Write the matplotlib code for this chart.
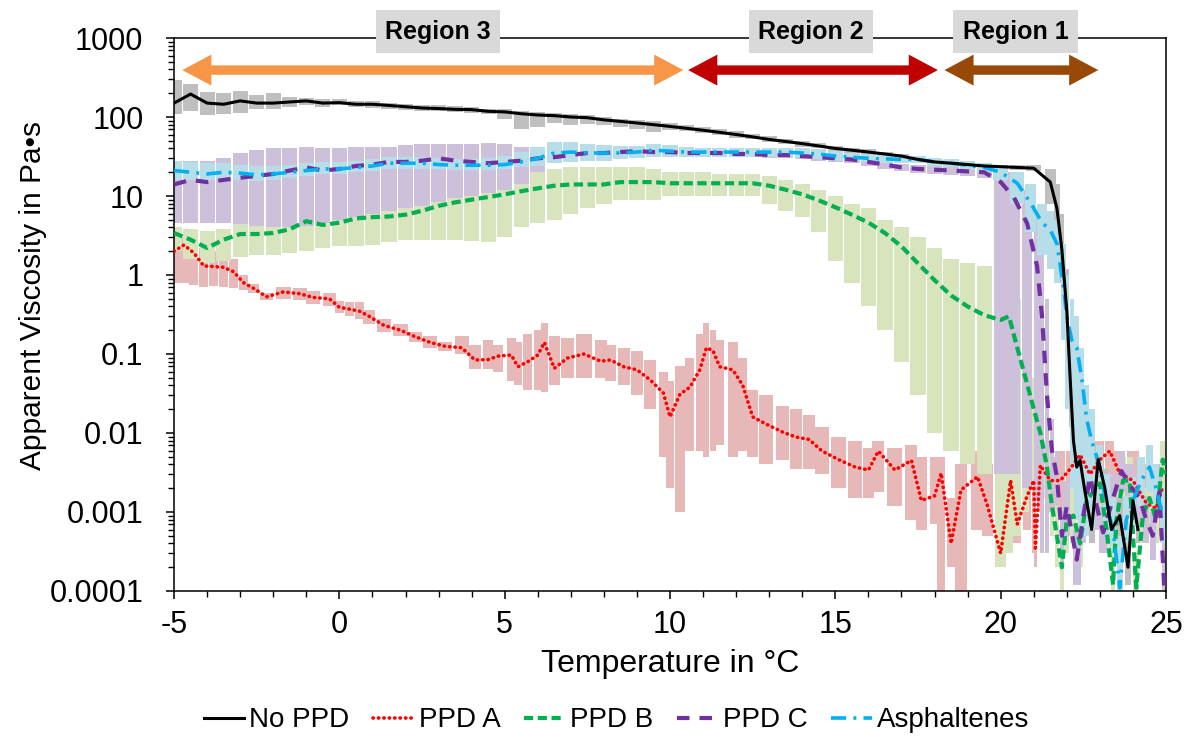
"""Apparent viscosity vs temperature for crude oil with and without PPDs."""

import matplotlib

matplotlib.use("Agg")

import matplotlib.pyplot as plt
import matplotlib.transforms as mtransforms
import numpy as np
from matplotlib.patches import Polygon
from matplotlib.ticker import FixedLocator, LogLocator, MultipleLocator, NullFormatter


# ---- No PPD (black) ----
NOPPD_T = [-5, -4.5, -4, -3.5, -3, -2.5, -2, -1.5, -1, -0.5,
           0, 0.5, 1, 1.5, 2, 2.5, 3, 3.5, 4, 4.5,
           5, 5.5, 6, 6.5, 7, 7.5, 8, 8.5, 9, 9.5,
           10, 10.5, 11, 11.5, 12, 12.5, 13, 13.5, 14, 14.5,
           15, 15.5, 16, 16.5, 17, 17.5, 18, 18.5, 19, 19.5,
           20, 20.5, 21,
           21.5, 21.7, 21.85, 22.0, 22.1, 22.2, 22.3, 22.4, 22.55, 22.75,
           22.95, 23.15, 23.35, 23.6, 23.85, 24.0, 24.15]
NOPPD_V = [150, 195, 150, 145, 160, 150, 150, 155, 160, 150,
           152, 145, 145, 140, 135, 130, 128, 125, 124, 118,
           116, 110, 106, 104, 100, 98, 92, 88, 84, 80,
           76, 72, 68, 64, 60, 56, 52, 49, 46, 43,
           40, 38, 36, 34, 32, 29, 27, 26, 25, 24,
           23.5, 23, 22.5,
           15, 7, 2.1, 0.35, 0.05, 0.008, 0.0037, 0.0045, 0.0018, 0.0006,
           0.0046, 0.002, 0.0006, 0.0009, 0.0002, 0.0014, 0.0006]
NOPPD_LO = [110, 120, 105, 110, 112, 125, 125, 135, 140, 135,
            140, 132, 130, 128, 124, 120, 118, 115, 113, 108,
            95, 70, 75, 85, 80, 82, 80, 75, 70, 65,
            68, 66, 62, 59, 55, 52, 48, 45, 42, 40,
            37, 35, 33.5, 32, 30, 27, 25, 24.5, 23.5, 22.5,
            22, 21.5, 20.5,
            8, 3, 0.8, 0.08, 0.012, 0.003, 0.002, 0.0025, 0.001, 0.0004,
            0.0025, 0.0012, 0.0004, 0.0005, 0.00012, 0.0008, 0.0004]
NOPPD_HI = [290, 260, 210, 200, 215, 190, 200, 180, 175, 170,
            168, 160, 158, 152, 147, 142, 140, 136, 135, 128,
            126, 120, 116, 113, 108, 106, 99, 95, 92, 88,
            84, 79, 75, 70, 66, 61, 57, 53, 50, 47,
            43, 41, 39, 36.5, 34, 31, 29, 28, 26.5, 25.5,
            25, 24.5, 24.5,
            22, 14, 6, 1.2, 0.2, 0.02, 0.006, 0.007, 0.003, 0.001,
            0.007, 0.0035, 0.001, 0.0015, 0.0004, 0.002, 0.001]

# ---- PPD A (red) ----
PPDA_T = [-5.0, -4.7, -4.4, -4.1, -3.8, -3.5, -3.2, -2.9, -2.6, -2.2, -1.7, -1.2, -0.8, -0.3,
          0.0, 0.3, 0.6, 0.9, 1.35, 1.85, 2.3, 2.75, 3.2, 3.7, 4.1, 4.5, 4.8,
          5.2, 5.4, 5.7, 6.0, 6.2, 6.5, 6.9, 7.4, 7.9, 8.2, 8.6, 9.0, 9.4, 9.8,
          10.0, 10.3, 10.6, 10.9, 11.1, 11.3, 11.5, 11.9, 12.2, 12.5, 12.9, 13.4, 13.8, 14.2, 14.6,
          15.1, 15.6, 16.0, 16.3, 16.8, 17.3, 17.6, 18.0, 18.2, 18.5, 18.8, 19.3, 19.6,
          20.0, 20.3, 20.5, 20.8, 21.0, 21.05, 21.2, 21.5, 21.8, 22.1, 22.4, 22.7, 23.0, 23.3,
          23.6, 24.0, 24.4, 24.7, 24.9]
PPDA_V = [2.0, 2.4, 1.9, 1.3, 1.28, 1.25, 1.1, 0.8, 0.68, 0.53, 0.61, 0.58, 0.52, 0.50,
          0.39, 0.37, 0.35, 0.30, 0.23, 0.20, 0.165, 0.14, 0.125, 0.12, 0.084, 0.085, 0.094,
          0.097, 0.069, 0.08, 0.097, 0.14, 0.066, 0.089, 0.10, 0.081, 0.084, 0.069, 0.063, 0.047, 0.032,
          0.016, 0.031, 0.038, 0.063, 0.12, 0.11, 0.069, 0.063, 0.04, 0.016, 0.013, 0.0103, 0.0089, 0.0083, 0.0059,
          0.0046, 0.0037, 0.0034, 0.0059, 0.0034, 0.0045, 0.0014, 0.0016, 0.0031, 0.0004, 0.0019, 0.0028, 0.0012,
          0.0003, 0.0025, 0.0007, 0.0016, 0.0025, 0.00035, 0.0039, 0.0025, 0.0025, 0.0035, 0.0053, 0.003, 0.0046, 0.0059,
          0.0031, 0.0025, 0.0013, 0.0011, 0.0021]
PPDA_LO = [0.8, 0.8, 0.75, 0.7, 0.72, 0.7, 0.68, 0.65, 0.6, 0.48, 0.5, 0.48, 0.43, 0.4,
           0.33, 0.3, 0.28, 0.24, 0.19, 0.17, 0.14, 0.12, 0.11, 0.1, 0.065, 0.065, 0.06,
           0.045, 0.04, 0.035, 0.035, 0.033, 0.04, 0.05, 0.05, 0.05, 0.045, 0.04, 0.03, 0.02, 0.005,
           0.002, 0.001, 0.006, 0.006, 0.005, 0.006, 0.007, 0.005, 0.006, 0.005, 0.004, 0.0045, 0.0035, 0.0035, 0.003,
           0.002, 0.0015, 0.0015, 0.0018, 0.0012, 0.0008, 0.0006, 0.0007, 0.0001, 0.0002, 0.0001, 0.0006, 0.0005,
           0.0002, 0.0008, 0.0004, 0.0006, 0.0003, 0.0002, 0.001, 0.001, 0.001, 0.0015, 0.002, 0.0015, 0.002, 0.003,
           0.0015, 0.001, 0.0006, 0.0005, 0.0008]
PPDA_HI = [3.0, 2.9, 2.5, 2.2, 2.0, 1.9, 1.6, 1.0, 0.78, 0.6, 0.7, 0.68, 0.62, 0.6,
           0.47, 0.45, 0.45, 0.36, 0.28, 0.24, 0.19, 0.17, 0.14, 0.17, 0.13, 0.15, 0.13,
           0.16, 0.14, 0.18, 0.2, 0.25, 0.17, 0.16, 0.18, 0.15, 0.13, 0.12, 0.11, 0.085, 0.06,
           0.045, 0.07, 0.09, 0.18, 0.25, 0.2, 0.15, 0.14, 0.09, 0.035, 0.03, 0.022, 0.02, 0.017, 0.012,
           0.009, 0.008, 0.0065, 0.008, 0.0065, 0.007, 0.005, 0.005, 0.005, 0.0015, 0.004, 0.006, 0.004,
           0.003, 0.005, 0.003, 0.004, 0.005, 0.0009, 0.005, 0.005, 0.006, 0.006, 0.008, 0.007, 0.008, 0.008,
           0.006, 0.006, 0.004, 0.004, 0.004]

# ---- PPD B (green) ----
PPDB_T = [-5, -4.5, -4, -3.5, -3, -2.5, -2, -1.5, -1, -0.5,
          0, 0.5, 1, 1.5, 2, 2.5, 3, 3.5, 4, 4.5,
          5, 5.5, 6, 6.5, 7, 7.5, 8, 8.5, 9, 9.5,
          10, 10.5, 11, 11.5, 12, 12.5, 13, 13.5, 14, 14.5,
          15, 15.5, 16, 16.5, 17, 17.5, 18, 18.5, 19, 19.5,
          20, 20.25, 20.5, 20.75, 21.0, 21.2, 21.4, 21.55, 21.7, 21.85,
          22.0, 22.2, 22.4, 22.6, 22.8, 23.0, 23.2, 23.4, 23.5, 23.7,
          23.9, 24.1, 24.3, 24.5, 24.7, 24.9, 25.0]
PPDB_V = [3.4, 2.8, 2.2, 2.8, 3.3, 3.3, 3.4, 3.8, 4.8, 4.3,
          4.6, 5.2, 5.4, 5.5, 5.8, 6.5, 7.5, 8.3, 9.0, 9.7,
          10.5, 11.5, 12.5, 13.5, 14, 14, 14, 15, 15, 15,
          14.5, 14.5, 14.5, 14.5, 14.5, 14.5, 13.5, 12, 10.5, 8.8,
          7.2, 5.8, 4.6, 3.4, 2.3, 1.4, 0.86, 0.55, 0.4, 0.31,
          0.27, 0.3, 0.12, 0.05, 0.02, 0.01, 0.0037, 0.0012, 0.0005, 0.0002,
          0.0008, 0.0009, 0.0004, 0.0014, 0.0018, 0.0023, 0.0006, 0.00012, 0.0008, 0.0025,
          0.0025, 0.00011, 0.0009, 0.0015, 0.0008, 0.0046, 0.003]
PPDB_LO = [2.0, 1.6, 1.4, 1.5, 1.7, 1.8, 1.8, 1.9, 2.0, 2.2,
           2.3, 2.3, 2.4, 2.6, 2.8, 2.8, 2.8, 2.8, 2.7, 2.6,
           3.0, 4.0, 4.5, 5, 6, 7, 8, 9, 9, 9,
           10, 10, 10, 10, 10, 10, 8, 6.5, 5.5, 3.5,
           1.5, 0.8, 0.4, 0.2, 0.08, 0.03, 0.01, 0.006, 0.004, 0.003,
           0.0002, 0.0003, 0.0005, 0.001, 0.002, 0.003, 0.0015, 0.0005, 0.0002, 0.0001,
           0.0003, 0.0004, 0.0002, 0.0006, 0.0008, 0.001, 0.0003, 0.0001, 0.0004, 0.0012,
           0.0012, 0.0001, 0.0004, 0.0007, 0.0004, 0.002, 0.0015]
PPDB_HI = [4.0, 3.8, 3.6, 3.8, 5.4, 5.4, 5.5, 5.8, 6.2, 6.6,
           6.8, 7.0, 7.5, 8.5, 9, 10, 11, 12, 13, 14,
           16, 20, 21, 22, 23, 23, 23, 23, 23, 22,
           20, 20, 20, 19, 19, 19, 18, 16, 14, 12,
           10, 8, 7, 5, 4, 3, 2.2, 1.6, 1.4, 1.3,
           1.2, 1.0, 0.5, 0.15, 0.05, 0.025, 0.008, 0.003, 0.0012, 0.0005,
           0.0018, 0.002, 0.0009, 0.003, 0.004, 0.005, 0.0013, 0.0003, 0.0018, 0.005,
           0.005, 0.0003, 0.002, 0.003, 0.0018, 0.008, 0.006]

# ---- PPD C (purple) ----
PPDC_T = [-5, -4.5, -4, -3.5, -3, -2.5, -2, -1.5, -1, -0.5,
          0, 0.5, 1, 1.5, 2, 2.5, 3, 3.5, 4, 4.5,
          5, 5.5, 6, 6.5, 7, 7.5, 8, 8.5, 9, 9.5,
          10, 10.5, 11, 11.5, 12, 12.5, 13, 13.5, 14, 14.5,
          15, 15.5, 16, 16.5, 17, 17.5, 18, 18.5, 19, 19.5,
          20, 20.4, 20.8, 21.1, 21.25, 21.4, 21.55, 21.7, 21.85, 22.0,
          22.3, 22.5, 22.7, 22.9, 23.1, 23.4, 23.65, 23.9, 24.2, 24.4,
          24.6, 24.8, 24.95]
PPDC_V = [14, 16, 15, 16, 17, 18, 19, 21, 23, 21,
          22, 24, 25, 27, 27, 28, 30, 28, 27, 26,
          27, 28, 30, 31, 33, 35, 35, 36, 37, 36,
          36, 35, 35, 35, 34, 34, 33, 33, 32, 31,
          30, 29, 27, 25, 23, 22, 21.5, 21, 20.5, 20,
          15, 9.6, 4.5, 1.3, 0.3, 0.03, 0.006, 0.0028, 0.0005, 0.0012,
          0.00025, 0.0009, 0.0028, 0.0012, 0.00055, 0.0015, 0.0033, 0.0022, 0.0015, 0.0008,
          0.0005, 0.0018, 0.0001]
PPDC_LO = [4.6, 4.5, 4.5, 4.6, 4.4, 4.2, 4.0, 4.0, 4.2, 4.5,
           5.0, 5.5, 6, 6.5, 7, 7.5, 8.5, 9.5, 10, 11,
           12, 14, 20, 26, 30, 32, 32, 33, 34, 33,
           33, 32, 32, 32, 31, 31, 30, 30, 29, 28,
           27, 26, 24, 22, 20.5, 19.5, 19, 18.5, 18, 17,
           0.003, 0.003, 0.002, 0.0015, 0.0003, 0.0003, 0.001, 0.0012, 0.0002, 0.0005,
           0.00012, 0.0004, 0.0013, 0.0006, 0.0003, 0.0008, 0.0018, 0.0012, 0.0008, 0.0004,
           0.00025, 0.0009, 0.00005]
PPDC_HI = [28, 28, 28, 30, 35, 38, 40, 40, 42, 40,
           40, 42, 42, 42, 44, 45, 45, 46, 46, 47,
           45, 42, 38, 36, 36, 38, 38, 39, 40, 39,
           39, 38, 38, 38, 37, 37, 36, 36, 35, 34,
           33, 32, 30, 28, 25.5, 24.5, 24, 23.5, 23, 22,
           21, 20, 12, 6, 2, 0.5, 0.015, 0.006, 0.0012, 0.0025,
           0.0006, 0.002, 0.006, 0.0025, 0.0012, 0.003, 0.006, 0.004, 0.003, 0.0016,
           0.001, 0.0035, 0.0004]

# ---- Asphaltenes (light blue) ----
ASPH_T = [-5, -4.5, -4, -3.5, -3, -2.5, -2, -1.5, -1, -0.5,
          0, 0.5, 1, 1.5, 2, 2.5, 3, 3.5, 4, 4.5,
          5, 5.5, 6, 6.5, 7, 7.5, 8, 8.5, 9, 9.5,
          10, 10.5, 11, 11.5, 12, 12.5, 13, 13.5, 14, 14.5,
          15, 15.5, 16, 16.5, 17, 17.5, 18, 18.5, 19, 19.5,
          20, 20.5, 20.9, 21.25, 21.5, 21.7, 21.9, 22.0, 22.15, 22.3,
          22.45, 22.6, 22.75, 23.0, 23.2, 23.4, 23.6, 23.8, 24.0, 24.25,
          24.5, 24.7, 24.9]
ASPH_V = [21, 20, 19, 20, 19.5, 18.5, 19, 20, 21, 22,
          22, 23, 24, 26, 26, 26, 25, 24.5, 24.5, 24.5,
          25, 27, 30, 35, 36, 35, 35, 35, 36, 38,
          37, 36, 36, 36, 36, 36, 36, 36, 35, 34,
          32, 31, 30, 29.5, 29, 29, 27, 26, 24.5, 23,
          20, 14.5, 8.2, 4.6, 3.7, 2.5, 0.7, 0.3, 0.15, 0.12,
          0.05, 0.015, 0.008, 0.0037, 0.0012, 0.0006, 0.00011, 0.0008, 0.0014, 0.0025,
          0.0037, 0.002, 0.0009]
ASPH_LO = [16, 16, 16, 16.5, 16, 15.5, 16, 17, 18, 19,
           19, 20, 21, 22, 22, 22, 22, 21.5, 21.5, 21.5,
           22, 23, 24, 26, 27, 28, 28, 29, 30, 31,
           31, 31, 31, 31, 31, 31, 31, 31, 30, 29,
           28, 27.5, 27, 26.5, 26, 26, 24, 23, 21.5, 20,
           16, 8, 3.5, 1.8, 1.2, 0.8, 0.15, 0.02, 0.002, 0.0008,
           0.0005, 0.0005, 0.0006, 0.0015, 0.0005, 0.0003, 0.0001, 0.0004, 0.0007, 0.0012,
           0.0018, 0.001, 0.0004]
ASPH_HI = [28, 27, 26, 26, 25, 24, 24, 25, 26, 27,
           27, 28, 29, 31, 31, 31, 30, 29, 29, 30,
           32, 36, 42, 48, 48, 45, 44, 43, 43, 45,
           44, 42, 41, 41, 41, 41, 41, 41, 40, 39,
           37, 35, 34, 33, 32.5, 32.5, 30.5, 29.5, 28, 26.5,
           24, 20, 14, 8, 6.5, 5, 2.5, 1.0, 0.5, 0.3,
           0.12, 0.04, 0.02, 0.007, 0.003, 0.0015, 0.0005, 0.0016, 0.0028, 0.005,
           0.007, 0.004, 0.002]

# ---- region annotations ----
REGION_LABELS = ["Region 3", "Region 2", "Region 1"]
REGION_STARTS = [-4.75, 10.55, 18.3]
REGION_ENDS = [10.4, 18.1, 22.95]
REGION_LABEL_X = [2.98, 14.26, 20.45]
REGION_COLORS = ["#F79646", "#C00000", "#984807"]

Y_TICKS = [1e-4, 1e-3, 1e-2, 1e-1, 1, 10, 100, 1000]
Y_TICK_LABELS = ["0.0001", "0.001", "0.01", "0.1", "1", "10", "100", "1000"]


def draw_error_bars(ax, t, lo, hi, color, zorder):
    t = np.asarray(t, dtype=float)
    lo = np.asarray(lo, dtype=float)
    hi = np.asarray(hi, dtype=float)
    width = np.gradient(t) * 0.92
    ax.bar(t, hi - lo, bottom=lo, width=width, color=color,
           linewidth=0, zorder=zorder)


def draw_region_arrow(ax, x0, x1, color):
    trans = mtransforms.blended_transform_factory(ax.transData, ax.transAxes)
    yc = 0.942
    head_h = 0.028
    body_h = 0.0085
    head_l = 0.88
    pts = [
        (x0, yc), (x0 + head_l, yc + head_h), (x0 + head_l, yc + body_h),
        (x1 - head_l, yc + body_h), (x1 - head_l, yc + head_h), (x1, yc),
        (x1 - head_l, yc - head_h), (x1 - head_l, yc - body_h),
        (x0 + head_l, yc - body_h), (x0 + head_l, yc - head_h),
    ]
    ax.add_patch(Polygon(pts, closed=True, transform=trans, facecolor=color,
                         edgecolor="none", zorder=8, clip_on=False))


def main() -> None:
    plt.rcParams.update({
        "font.family": ["Liberation Sans", "DejaVu Sans"],
        "axes.linewidth": 1.1,
        "axes.unicode_minus": False,
    })

    fig = plt.figure(figsize=(11.88, 7.38), dpi=100)
    ax = fig.add_axes([0.1465, 0.1992, 0.835, 0.7493])

    # error bars
    draw_error_bars(ax, PPDA_T, PPDA_LO, PPDA_HI, "#E6B9B8", 1.0)
    draw_error_bars(ax, PPDB_T, PPDB_LO, PPDB_HI, "#D7E4BD", 1.1)
    draw_error_bars(ax, NOPPD_T, NOPPD_LO, NOPPD_HI, "#BFBFBF", 1.2)
    draw_error_bars(ax, PPDC_T, PPDC_LO, PPDC_HI, "#CCC0DA", 1.3)
    draw_error_bars(ax, ASPH_T, ASPH_LO, ASPH_HI, "#B7DEE8", 1.4)

    # mean curves
    ax.plot(PPDA_T, PPDA_V, color="#FF0000", lw=2.6,
            linestyle=(0, (0.1, 1.4)), dash_capstyle="round",
            label="PPD A", zorder=3)
    ax.plot(PPDB_T, PPDB_V, color="#00B050", lw=3.0,
            linestyle=(0, (2.2, 1.1)), label="PPD B", zorder=4)
    ax.plot(PPDC_T, PPDC_V, color="#7030A0", lw=3.0,
            linestyle=(0, (3.0, 2.4)), label="PPD C", zorder=5)
    ax.plot(ASPH_T, ASPH_V, color="#00B0F0", lw=2.6,
            linestyle=(0, (4.2, 2.0, 0.8, 2.0)), label="Asphaltenes", zorder=6)
    ax.plot(NOPPD_T, NOPPD_V, color="black", lw=2.2,
            label="No PPD", zorder=7)

    ax.set_yscale("log")
    ax.set_ylim(1e-4, 1000)
    ax.set_xlim(-5, 25)
    ax.yaxis.set_major_locator(FixedLocator(Y_TICKS))
    ax.set_yticklabels(Y_TICK_LABELS)
    ax.yaxis.set_minor_locator(LogLocator(base=10, subs=np.arange(2, 10)))
    ax.yaxis.set_minor_formatter(NullFormatter())
    ax.xaxis.set_major_locator(MultipleLocator(5))
    ax.xaxis.set_minor_locator(MultipleLocator(1))

    ax.tick_params(axis="both", which="major", direction="out", length=6,
                   width=1.1, labelsize=22, color="black")
    ax.tick_params(axis="both", which="minor", direction="out", length=4,
                   width=1.0, color="black")
    ax.tick_params(axis="y", which="major", pad=16)
    ax.tick_params(axis="x", which="major", pad=8)

    ax.set_xlabel("Temperature in °C", fontsize=23)
    ax.set_ylabel("Apparent Viscosity in Pa•s", fontsize=21.5)
    ax.xaxis.set_label_coords(0.5, -0.105)
    ax.yaxis.set_label_coords(-0.128, 0.535)

    # region arrows and labels
    trans = mtransforms.blended_transform_factory(ax.transData, ax.transAxes)
    for label, x0, x1, xl, color in zip(REGION_LABELS, REGION_STARTS, REGION_ENDS,
                                        REGION_LABEL_X, REGION_COLORS):
        draw_region_arrow(ax, x0, x1, color)
        ax.text(xl, 1.011, label, transform=trans, ha="center", va="center",
                fontsize=18, fontweight="bold", zorder=9, clip_on=False,
                bbox=dict(boxstyle="square,pad=0.38", facecolor="#D9D9D9",
                          edgecolor="none"))

    handles, labels = ax.get_legend_handles_labels()
    order = ["No PPD", "PPD A", "PPD B", "PPD C", "Asphaltenes"]
    lookup = dict(zip(labels, handles))
    fig.legend([lookup[name] for name in order], order, loc="center",
               bbox_to_anchor=(0.519, 0.024), ncol=5, frameon=False,
               fontsize=20, handlelength=1.45, handletextpad=0.2,
               columnspacing=0.85)

    fig.savefig("out.png", dpi=100)
    plt.close(fig)


if __name__ == "__main__":
    main()
